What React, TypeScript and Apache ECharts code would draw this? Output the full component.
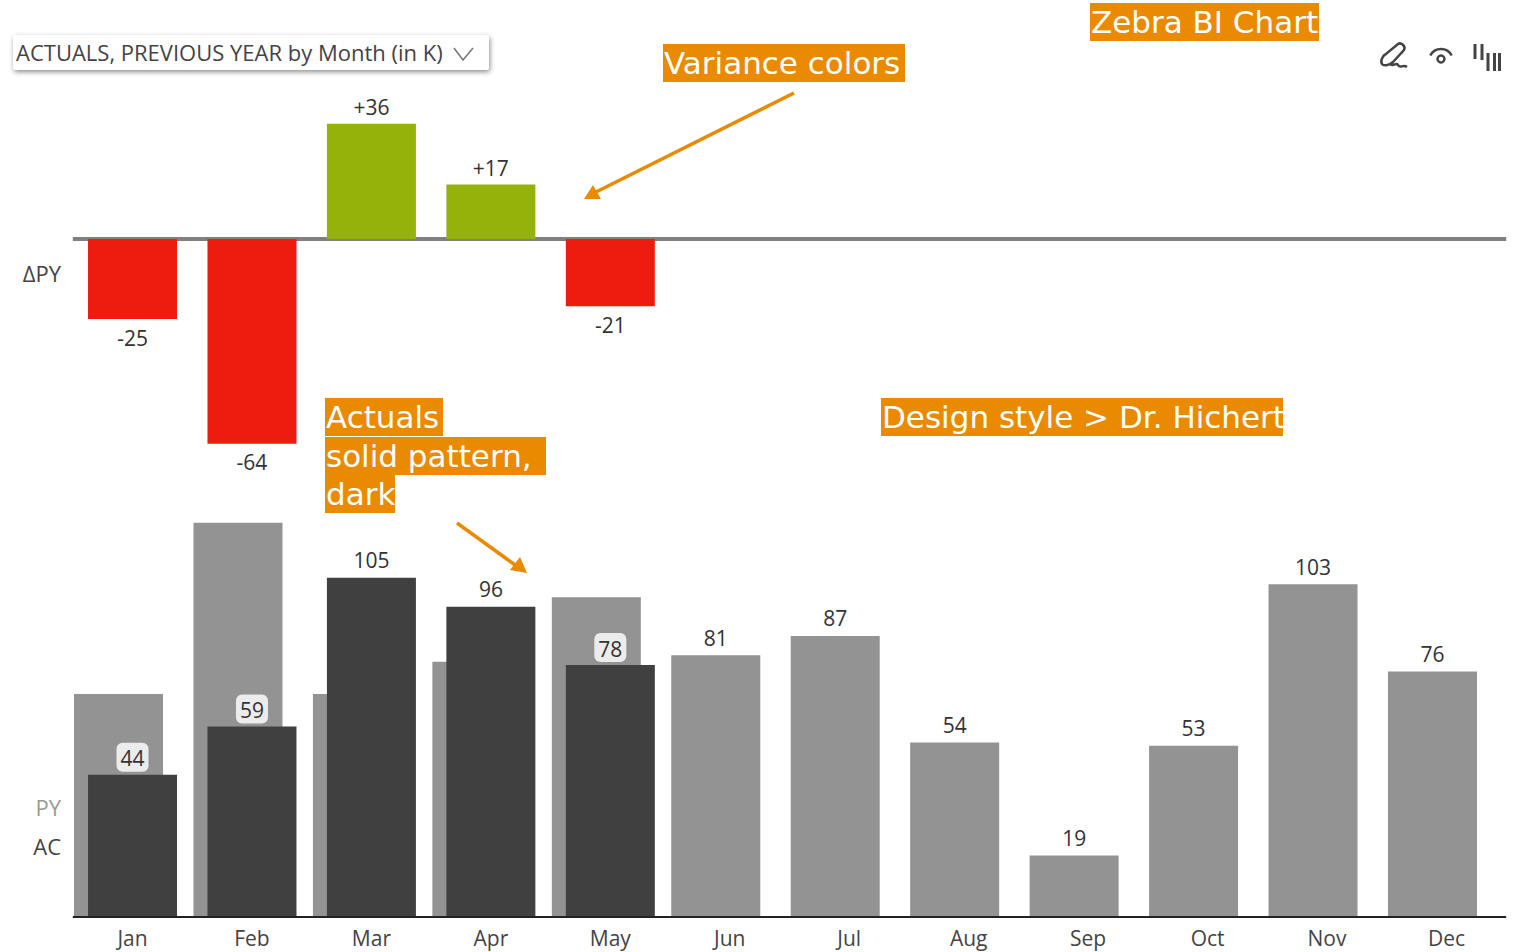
import React, { useEffect, useRef } from "react";
import * as echarts from "echarts";

const months = ["Jan", "Feb", "Mar", "Apr", "May", "Jun", "Jul", "Aug", "Sep", "Oct", "Nov", "Dec"];
const actuals: (number | null)[] = [44, 59, 105, 96, 78, null, null, null, null, null, null, null];
const previousYear = [69, 122, 69, 79, 99, 81, 87, 54, 19, 53, 103, 76];
const deltaPY: (number | null)[] = [-25, -64, 36, 17, -21, null, null, null, null, null, null, null];
const boxedActuals = ["Jan", "Feb", "May"];

const FONT = "'Open Sans', 'Noto Sans', sans-serif";
const ORANGE = "#EA8A00";

const signed = (v: number) => (v > 0 ? `+${v}` : `${v}`);

function note(text: string, x: number, y: number, w: number, fontSize = 31) {
  return [
    { type: "rect", z: 19, shape: { x, y, width: w, height: 38 }, style: { fill: ORANGE } },
    {
      type: "text",
      x: x + 1,
      y: y + 19,
      z: 20,
      style: {
        text,
        font: `${fontSize}px 'DejaVu Sans', sans-serif`,
        fill: "#fff",
        verticalAlign: "middle",
      },
    },
  ];
}

function arrow(x1: number, y1: number, x2: number, y2: number, head: number[][]) {
  return [
    { type: "line", z: 20, shape: { x1, y1, x2, y2 }, style: { stroke: ORANGE, lineWidth: 3.5 } },
    { type: "polygon", z: 20, shape: { points: head }, style: { fill: ORANGE } },
  ];
}

echarts.graphic.registerShape(
  "penIcon",
  echarts.graphic.extendPath(
    "M18 1C21 -1 26 3 24 7L13 19C9 23 3 23 2 21C0 18 3 12 6 11ZM10 21C14 24 16 19 18 22C20 26 23 21 27 24",
    {}
  )
);

export default function App() {
  const ref = useRef<HTMLDivElement>(null);
  useEffect(() => {
    if (!ref.current) return;
    const chart = echarts.init(ref.current, undefined, { renderer: "svg" });
    const left = 72.8;
    const width = 1433.4;
    const labelCommon = { color: "#333", fontSize: 21, fontFamily: FONT };
    const hiddenAxis = { show: false };
    chart.setOption({
      animation: false,
      backgroundColor: "#fff",
      grid: [
        { left, width, top: 111, height: 352 },
        { left, width, top: 497, height: 420 },
        { left: left - 14, width, top: 497, height: 420 },
      ],
      xAxis: [
        {
          type: "category",
          gridIndex: 0,
          data: months,
          z: 1,
          axisLine: { onZero: true, lineStyle: { color: "#808080", width: 4, cap: "butt" } },
          axisTick: hiddenAxis,
          axisLabel: hiddenAxis,
        },
        {
          type: "category",
          gridIndex: 1,
          data: months,
          axisLine: { lineStyle: { color: "#222", width: 2, cap: "butt" } },
          axisTick: hiddenAxis,
          axisLabel: { color: "#444", fontSize: 21, fontFamily: FONT, margin: 10 },
          z: 5,
        },
        { type: "category", gridIndex: 2, data: months, show: false },
      ],
      yAxis: [
        { type: "value", gridIndex: 0, min: -70, max: 40, show: false, splitLine: hiddenAxis },
        { type: "value", gridIndex: 1, min: 0, max: 130, show: false, splitLine: hiddenAxis },
        { type: "value", gridIndex: 2, min: 0, max: 130, show: false, splitLine: hiddenAxis },
      ],
      series: [
        {
          type: "bar",
          name: "ΔPY",
          xAxisIndex: 0,
          yAxisIndex: 0,
          barWidth: 89,
          z: 2,
          data: deltaPY.map((v) => ({
            value: v,
            itemStyle: { color: v !== null && v > 0 ? "#94B20A" : "#EE1C0E" },
            label: v !== null && v < 0 ? { position: "bottom", distance: 8 } : { position: "top", distance: 6 },
          })),
          label: {
            show: true,
            ...labelCommon,
            formatter: (p: any) => signed(p.value),
          },
        },
        {
          type: "bar",
          name: "PY",
          xAxisIndex: 2,
          yAxisIndex: 2,
          barWidth: 89,
          z: 2,
          itemStyle: { color: "#939393" },
          data: previousYear.map((v, i) => ({
            value: v,
            label: { show: actuals[i] === null },
          })),
          label: { ...labelCommon, position: "top", distance: 7 },
        },
        {
          type: "bar",
          name: "AC",
          xAxisIndex: 1,
          yAxisIndex: 1,
          barWidth: 89,
          z: 3,
          itemStyle: { color: "#404040" },
          data: actuals.map((v, i) => ({
            value: v,
            label: boxedActuals.includes(months[i])
              ? {
                  show: true,
                  backgroundColor: "#ececec",
                  borderRadius: 6,
                  padding: [5, 4, 3, 4],
                  distance: 3,
                }
              : { show: v !== null },
          })),
          label: { ...labelCommon, position: "top", distance: 7 },
        },
      ],
      graphic: [
        {
          type: "rect",
          z: 10,
          shape: { x: 13, y: 35, width: 476, height: 35, r: 3 },
          style: { fill: "#fff", shadowBlur: 5, shadowColor: "rgba(0,0,0,0.45)", shadowOffsetX: 1, shadowOffsetY: 2 },
        },
        {
          type: "text",
          z: 11,
          x: 16,
          y: 52,
          style: {
            text: "ACTUALS, PREVIOUS YEAR by Month (in K)",
            font: `22px ${FONT}`,
            fill: "#444",
            verticalAlign: "middle",
          },
        },
        {
          type: "polyline",
          z: 11,
          shape: { points: [[454, 48], [463, 60], [473, 48]] },
          style: { stroke: "#777", lineWidth: 1.5, fill: "none" },
        },
        { type: "text", x: 61, y: 273, z: 11, style: { text: "ΔPY", font: `22px ${FONT}`, fill: "#444", align: "right", verticalAlign: "middle" } },
        { type: "text", x: 61, y: 807, z: 11, style: { text: "PY", font: `22px ${FONT}`, fill: "#999", align: "right", verticalAlign: "middle" } },
        { type: "text", x: 61, y: 846, z: 11, style: { text: "AC", font: `22px ${FONT}`, fill: "#444", align: "right", verticalAlign: "middle" } },
        ...note("Zebra BI Chart", 1090, 3, 229),
        ...note("Variance colors", 663, 44, 242),
        ...note("Actuals", 325, 398, 118),
        ...note("solid pattern,", 325, 437, 221),
        ...note("dark", 325, 475, 70),
        ...note("Design style > Dr. Hichert", 881, 398, 402),
        ...arrow(794, 93, 592, 194, [[584, 199], [601, 199], [593, 185]]),
        ...arrow(457, 523, 518, 567, [[527, 573], [510, 570], [520, 557]]),
        {
          type: "penIcon",
          x: 1380,
          y: 43,
          z: 11,
          style: { stroke: "#444", lineWidth: 2.5, fill: "none" },
        },
        { type: "arc", z: 11, shape: { cx: 1441, cy: 61, r: 12, startAngle: Math.PI * 1.15, endAngle: Math.PI * 1.85 }, style: { stroke: "#444", lineWidth: 2.5, fill: "none" } },
        { type: "circle", z: 11, shape: { cx: 1441, cy: 59, r: 3.5 }, style: { stroke: "#444", lineWidth: 2.5, fill: "none" } },
        ...[
          [1475, 44, 1475, 59],
          [1482, 44, 1482, 60],
          [1488, 53, 1488, 71],
          [1494.5, 53, 1494.5, 71],
          [1499.5, 53, 1499.5, 71],
        ].map(([x1, y1, x2, y2]) => ({
          type: "line",
          z: 11,
          shape: { x1, y1, x2, y2 },
          style: { stroke: "#444", lineWidth: 3 },
        })),
      ],
    });
    return () => chart.dispose();
  }, []);
  return <div ref={ref} style={{ position: "absolute", left: 0, top: 0, width: 1514, height: 952 }} />;
}
